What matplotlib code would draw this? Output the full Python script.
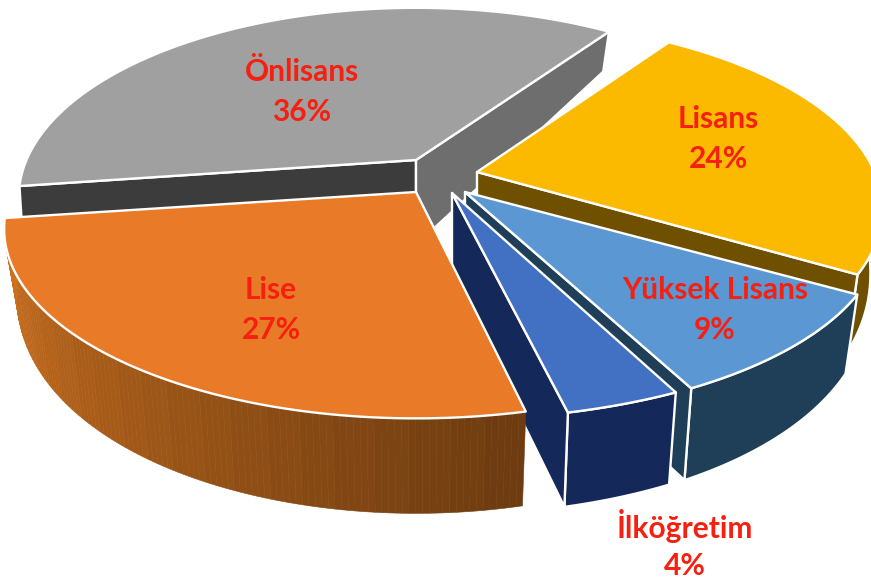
import numpy as np
import matplotlib
matplotlib.use("Agg")
import matplotlib.pyplot as plt
from matplotlib.patches import Polygon

# Data
categories = ["Önlisans", "Lisans", "Yüksek Lisans", "İlköğretim", "Lise"]
values = [36, 24, 9, 4, 27]

# Layout / styling (pixel-based axes)
apex_x = [416, 477, 465, 452, 416]
apex_y = [160, 172, 192, 193, 192]
radius_x_scale = [0.95, 0.97, 1.0, 1.04, 0.985]
start_pad = [2.5, 0, 0, -1.5, 0]
end_pad = [1, 0, 0, 0, -2.5]
top_colors = ["#a0a0a0", "#fbb900", "#5b97d3", "#4270c2", "#e87a28"]
wall_colors = ["#7c7c7c", "#6e5000", "#1f3f58", "#14295a", "#b5611f"]
cut_start_colors = ["#3c3c3c", "#6e5000", "#1f3f58", "#14295a", "#8a4a18"]
cut_end_colors = ["#6e6e6e", "#6e5000", "#1f3f58", "#14295a", "#8a4a18"]
label_xy = [(302, 92), (718, 139), (715, 310), (685, 546), (271, 310)]
LABEL_GAP = 20
start_angle = 185.5
RX, RY, PERSP = 410.0, 182.0, 0.196
BOTTOM_SHRINK = 0.97
APEX_DROP = 85.0
W, H = 871, 580


def project(ax0, ay0, theta, sx):
    X = np.cos(theta)
    Y = np.sin(theta)
    s = 1 + PERSP * Y
    return ax0 + sx * RX * X / s, ay0 - RY * Y / s


def drop(Y):
    return 40 + 55 * np.sqrt(np.clip(-Y, 0, None))


fig = plt.figure(figsize=(W / 100, H / 100), dpi=100)
ax = fig.add_axes([0, 0, 1, 1])
ax.set_xlim(0, W)
ax.set_ylim(H, 0)
ax.axis("off")

angles = [start_angle]
for v in values:
    angles.append(angles[-1] - 360.0 * v / sum(values))

EDGE = dict(edgecolor="white", linewidth=1.7, joinstyle="round")
base = np.array(matplotlib.colors.to_rgb("#d4741f"))

for i in range(len(values)):
    a0 = np.radians(angles[i] + start_pad[i])
    a1 = np.radians(angles[i + 1] - end_pad[i])
    t = np.linspace(a0, a1, 120)
    ox, oy = project(apex_x[i], apex_y[i], t, radius_x_scale[i])
    d = drop(np.sin(t))
    bx = apex_x[i] + (ox - apex_x[i]) * BOTTOM_SHRINK
    by = oy + d
    zo = 2 + i * 2
    if i == 4:
        n = len(t) - 1
        for k in range(n):
            band = np.floor(k / n * 22) / 22
            c = base * (0.52 + 0.48 * band)
            quad = [(ox[k], oy[k]), (ox[k + 1], oy[k + 1]), (bx[k + 1], by[k + 1]), (bx[k], by[k])]
            ax.add_patch(Polygon(quad, closed=True, facecolor=c, edgecolor=c, linewidth=0.4, zorder=zo))
    else:
        wall = np.column_stack([np.r_[ox, bx[::-1]], np.r_[oy, by[::-1]]])
        ax.add_patch(Polygon(wall, closed=True, facecolor=wall_colors[i], zorder=zo, **EDGE))
    axb, ayb = apex_x[i], apex_y[i] + APEX_DROP
    if i == 0:
        cut = [(apex_x[i], apex_y[i]), (ox[0], oy[0]), (ox[0] + 2, oy[0] + 32), (axb, apex_y[i] + 35)]
        ax.add_patch(Polygon(cut, closed=True, facecolor=cut_start_colors[i], zorder=zo + 0.5, **EDGE))
    if i != 4:
        cut = [(apex_x[i], apex_y[i]), (ox[-1], oy[-1]), (bx[-1], by[-1]), (axb, ayb)]
        ax.add_patch(Polygon(cut, closed=True, facecolor=cut_end_colors[i], zorder=zo + 0.5, **EDGE))
    top = np.column_stack([np.r_[apex_x[i], ox], np.r_[apex_y[i], oy]])
    ax.add_patch(Polygon(top, closed=True, facecolor=top_colors[i], zorder=zo + 1, **EDGE))

for name, val, (lx, ly) in zip(categories, values, label_xy):
    for txt, dy in ((name, -LABEL_GAP), (f"{val}%", LABEL_GAP)):
        ax.text(lx, ly + dy, txt, color="#f5200f", ha="center", va="center",
                fontsize=21.5, fontweight="bold", family="Lato", zorder=30)

fig.savefig("out.png", dpi=100)
